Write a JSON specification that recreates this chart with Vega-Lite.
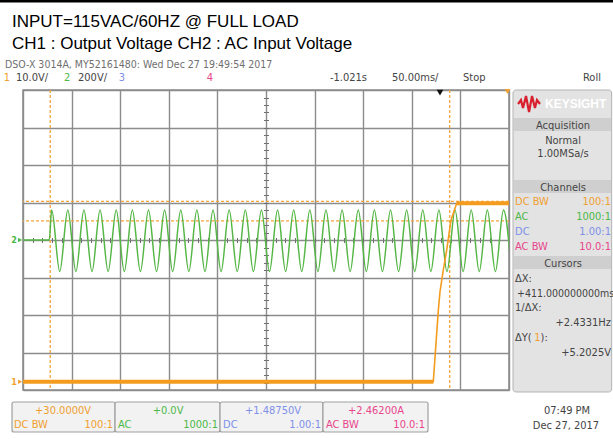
{
"$schema": "https://vega.github.io/schema/vega-lite/v6.json",
"width": 486, "height": 300,
"autosize": "none",
"padding": {"left": 23, "top": 90, "right": 104, "bottom": 49},
"background": "white",
"title": {"text": ["INPUT=115VAC/60HZ @ FULL LOAD", "CH1 : Output Voltage CH2 : AC Input Voltage"], "anchor": "start", "frame": "group", "orient": "top", "dx": -11, "offset": -53, "font": "Liberation Sans", "fontSize": 17, "fontWeight": "normal", "color": "#000000", "lineHeight": 22},
"config": {"view": {"stroke": "#8c8c8c", "strokeWidth": 1.5}},
"datasets": {
"ch2": [{"t":-250,"v":0},{"t":-223,"v":0},
{"t":-220.5,"v":0.8},{"t":-212.2,"v":-0.84},{"t":-203.9,"v":0.8},{"t":-195.6,"v":-0.84},{"t":-187.3,"v":0.8},{"t":-179.0,"v":-0.84},{"t":-170.7,"v":0.8},{"t":-162.4,"v":-0.84},{"t":-154.1,"v":0.8},{"t":-145.8,"v":-0.84},{"t":-137.5,"v":0.8},{"t":-129.2,"v":-0.84},{"t":-120.9,"v":0.8},{"t":-112.6,"v":-0.84},{"t":-104.3,"v":0.8},{"t":-96.0,"v":-0.84},{"t":-87.7,"v":0.8},{"t":-79.4,"v":-0.84},{"t":-71.1,"v":0.8},{"t":-62.8,"v":-0.84},{"t":-54.5,"v":0.8},{"t":-46.2,"v":-0.84},{"t":-37.9,"v":0.8},{"t":-29.6,"v":-0.84},{"t":-21.3,"v":0.8},{"t":-13.0,"v":-0.84},{"t":-4.7,"v":0.8},{"t":3.6,"v":-0.84},{"t":11.9,"v":0.8},{"t":20.2,"v":-0.84},{"t":28.5,"v":0.8},{"t":36.8,"v":-0.84},{"t":45.1,"v":0.8},{"t":53.4,"v":-0.84},{"t":61.7,"v":0.8},{"t":70.0,"v":-0.84},{"t":78.3,"v":0.8},{"t":86.6,"v":-0.84},{"t":94.9,"v":0.8},{"t":103.2,"v":-0.84},{"t":111.5,"v":0.8},{"t":119.8,"v":-0.84},{"t":128.1,"v":0.8},{"t":136.4,"v":-0.84},{"t":144.7,"v":0.8},{"t":153.0,"v":-0.84},{"t":161.3,"v":0.8},{"t":169.6,"v":-0.84},{"t":177.9,"v":0.8},{"t":186.2,"v":-0.84},{"t":194.5,"v":0.8},{"t":202.8,"v":-0.84},{"t":211.1,"v":0.8},{"t":219.4,"v":-0.84},{"t":227.7,"v":0.8},{"t":236.0,"v":-0.84},{"t":244.3,"v":0.8},{"t":252.6,"v":-0.84}],
"ch1": [{"t":-250,"v":-3.78,"seg":"low"},{"t":172.1,"v":-3.78,"seg":"low"},{"t":177.3,"v":-1.87,"seg":"rise"},{"t":179.0,"v":-1.38,"seg":"rise"},{"t":182.4,"v":-0.8,"seg":"rise"},{"t":185.9,"v":-0.27,"seg":"rise"},{"t":190.3,"v":0.53,"seg":"rise"},{"t":196.2,"v":0.98,"seg":"high"},{"t":250,"v":0.98,"seg":"high"}],
"cursorT": [{"t":-222},{"t":189}],
"cursorV": [{"v":1.03},{"v":0.51}],
"border": [{"t":-275,"t2":358,"v":6.373}],
"boxes": [
{"t":254.1,"t2":355.6,"v":4.0,"v2":-4.053,"kind":"panel"},
{"t":255,"t2":355,"v":3.253,"v2":2.907,"kind":"bar"},
{"t":255,"t2":355,"v":1.6,"v2":1.253,"kind":"bar"},
{"t":255,"t2":355,"v":-0.427,"v2":-0.773,"kind":"bar"},
{"t":-261.3,"t2":-155.3,"v":-4.32,"v2":-5.12,"kind":"box"},
{"t":-155.3,"t2":-47.3,"v":-4.32,"v2":-5.12,"kind":"box"},
{"t":-47.3,"t2":58.6,"v":-4.32,"v2":-5.12,"kind":"box"},
{"t":58.6,"t2":166.7,"v":-4.32,"v2":-5.12,"kind":"box"}],
"logo": [{"t":259.3,"v":3.627},{"t":262.3,"v":3.733},{"t":264.4,"v":3.52},{"t":267.5,"v":3.84},{"t":270.6,"v":3.413},{"t":273.7,"v":3.84},{"t":276.7,"v":3.52},{"t":278.8,"v":3.733},{"t":281.9,"v":3.627}],
"marks": [{"t":179,"v":3.93,"kind":"delay","ch":"b"},{"t":248.5,"v":3.96,"kind":"trig","ch":"1"},{"t":-253,"v":-3.78,"kind":"gnd","ch":"1"},{"t":-253,"v":0,"kind":"gnd","ch":"2"}],
"labels": [
{"t":-268.5,"v":4.587,"text":"DSO-X 3014A, MY52161480: Wed Dec 27 19:49:54 2017","ch":"g","kind":"dso"},
{"t":-257.2,"v":4.24,"text":"10.0V/","ch":"k","kind":"hdr"},
{"t":-193.4,"v":4.24,"text":"200V/","ch":"k","kind":"hdr"},
{"t":65.8,"v":4.24,"text":"-1.021s","ch":"k","kind":"hdr"},
{"t":129.6,"v":4.24,"text":"50.00ms/","ch":"k","kind":"hdr"},
{"t":202.7,"v":4.24,"text":"Stop","ch":"k","kind":"hdr"},
{"t":326.1,"v":4.24,"text":"Roll","ch":"k","kind":"hdr"},
{"t":-266.5,"v":4.24,"text":"1","ch":"1","kind":"hdrc"},
{"t":-204.7,"v":4.24,"text":"2","ch":"2","kind":"hdrc"},
{"t":-148.2,"v":4.24,"text":"3","ch":"3","kind":"hdrc"},
{"t":-57.6,"v":4.24,"text":"4","ch":"4","kind":"hdrc"},
{"t":305.6,"v":2.96,"text":"Acquisition","ch":"k","kind":"c"},
{"t":305.6,"v":2.56,"text":"Normal","ch":"k","kind":"c"},
{"t":305.6,"v":2.213,"text":"1.00MSa/s","ch":"k","kind":"c"},
{"t":305.6,"v":1.307,"text":"Channels","ch":"k","kind":"c"},
{"t":305.6,"v":-0.72,"text":"Cursors","ch":"k","kind":"c"},
{"t":256.2,"v":0.933,"text":"DC BW","ch":"1","kind":"l"},
{"t":256.2,"v":0.533,"text":"AC","ch":"2","kind":"l"},
{"t":256.2,"v":0.133,"text":"DC","ch":"3","kind":"l"},
{"t":256.2,"v":-0.267,"text":"AC BW","ch":"4","kind":"l"},
{"t":256.2,"v":-1.12,"text":"ΔX:","ch":"k","kind":"l"},
{"t":256.2,"v":-1.893,"text":"1/ΔX:","ch":"k","kind":"l"},
{"t":256.2,"v":-2.693,"text":"ΔY(","ch":"k","kind":"l"},
{"t":276.0,"v":-2.693,"text":"1","ch":"1","kind":"l"},
{"t":282.5,"v":-2.693,"text":"):","ch":"k","kind":"l"},
{"t":258.3,"v":-1.52,"text":"+411.000000000ms","ch":"k","kind":"ls"},
{"t":354.9,"v":0.933,"text":"100:1","ch":"1","kind":"r"},
{"t":354.9,"v":0.533,"text":"1000:1","ch":"2","kind":"r"},
{"t":354.9,"v":0.133,"text":"1.00:1","ch":"3","kind":"r"},
{"t":354.9,"v":-0.267,"text":"10.0:1","ch":"4","kind":"r"},
{"t":354.9,"v":-2.293,"text":"+2.4331Hz","ch":"k","kind":"r"},
{"t":354.9,"v":-3.093,"text":"+5.2025V","ch":"k","kind":"r"},
{"t":-208.8,"v":-4.64,"text":"+30.0000V","ch":"1","kind":"c"},
{"t":-100.8,"v":-4.64,"text":"+0.0V","ch":"2","kind":"c"},
{"t":7.2,"v":-4.64,"text":"+1.48750V","ch":"3","kind":"c"},
{"t":113.2,"v":-4.64,"text":"+2.46200A","ch":"4","kind":"c"},
{"t":309.7,"v":-4.64,"text":"07:49 PM","ch":"k","kind":"c"},
{"t":308.6,"v":-5.05,"text":"Dec 27, 2017","ch":"k","kind":"c"},
{"t":-259.3,"v":-5.0,"text":"DC  BW","ch":"1","kind":"l"},
{"t":-152.3,"v":-5.0,"text":"AC","ch":"2","kind":"l"},
{"t":-44.2,"v":-5.0,"text":"DC","ch":"3","kind":"l"},
{"t":61.7,"v":-5.0,"text":"AC  BW","ch":"4","kind":"l"},
{"t":-157.4,"v":-5.0,"text":"100:1","ch":"1","kind":"r"},
{"t":-49.4,"v":-5.0,"text":"1000:1","ch":"2","kind":"r"},
{"t":56.6,"v":-5.0,"text":"1.00:1","ch":"3","kind":"r"},
{"t":163.6,"v":-5.0,"text":"10.0:1","ch":"4","kind":"r"},
{"t":-259.3,"v":-3.78,"text":"1","ch":"1","kind":"gnd"},
{"t":-259.3,"v":0,"text":"2","ch":"2","kind":"gnd"},
{"t":287.0,"v":3.52,"text":"KEYSIGHT","ch":"w","kind":"logo"}]
},
"layer": [
{"data": {"name": "border"}, "mark": {"type": "rule", "stroke": "#000000", "strokeWidth": 3},
 "encoding": {"x": {"field": "t", "type": "quantitative", "scale": {"domain": [-250, 250], "nice": false, "zero": false}, "axis": null}, "x2": {"field": "t2"}, "y": {"field": "v", "type": "quantitative", "scale": {"domain": [-4, 4], "nice": false, "zero": false}, "axis": null}}},
{"data": {"name": "boxes"}, "transform": [{"filter": "datum.kind === 'panel'"}], "mark": {"type": "rect", "fill": "#e3e3e3", "stroke": "#b3b3b3", "strokeWidth": 1, "cornerRadius": 3},
 "encoding": {"x": {"field": "t", "type": "quantitative", "axis": null}, "x2": {"field": "t2"}, "y": {"field": "v", "type": "quantitative", "axis": null}, "y2": {"field": "v2"}}},
{"data": {"name": "boxes"}, "transform": [{"filter": "datum.kind === 'bar'"}], "mark": {"type": "rect", "fill": "#cfcfcf"},
 "encoding": {"x": {"field": "t", "type": "quantitative", "axis": null}, "x2": {"field": "t2"}, "y": {"field": "v", "type": "quantitative", "axis": null}, "y2": {"field": "v2"}}},
{"data": {"name": "boxes"}, "transform": [{"filter": "datum.kind === 'box'"}], "mark": {"type": "rect", "fill": "#f2f2f2", "stroke": "#a0a0a0", "strokeWidth": 1.2, "cornerRadius": 2},
 "encoding": {"x": {"field": "t", "type": "quantitative", "axis": null}, "x2": {"field": "t2"}, "y": {"field": "v", "type": "quantitative", "axis": null}, "y2": {"field": "v2"}}},
{"data": {"name": "cursorT"}, "mark": {"type": "rule", "stroke": "#f5a43a", "strokeDash": [3, 2], "strokeWidth": 1.3},
 "encoding": {"x": {"field": "t", "type": "quantitative", "axis": null}}},
{"data": {"name": "cursorV"}, "mark": {"type": "rule", "stroke": "#f5a43a", "strokeDash": [3, 2], "strokeWidth": 1.3},
 "encoding": {"y": {"field": "v", "type": "quantitative", "axis": null}}},
{"data": {"name": "ch2"}, "mark": {"type": "line", "color": "#55b646", "strokeWidth": 1.5, "interpolate": "monotone", "clip": true},
 "encoding": {
  "x": {"field": "t", "type": "quantitative", "scale": {"domain": [-250, 250], "nice": false, "zero": false}, "axis": {"orient": "bottom", "values": [-250,-200,-150,-100,-50,0,50,100,150,200,250], "grid": true, "gridColor": "#8c8c8c", "gridWidth": 1.4, "gridOpacity": 1, "ticks": false, "labels": false, "domain": false, "title": null}},
  "y": {"field": "v", "type": "quantitative", "scale": {"domain": [-4, 4], "nice": false, "zero": false}, "axis": {"orient": "left", "values": [-4,-3,-2,-1,0,1,2,3,4], "grid": true, "gridColor": "#8c8c8c", "gridWidth": 1.4, "gridOpacity": 1, "ticks": false, "labels": false, "domain": false, "title": null}}
 }},
{"data": {"name": "ch1"}, "mark": {"type": "line", "color": "#f39c1f", "strokeWidth": 1.6},
 "encoding": {
  "x": {"field": "t", "type": "quantitative", "axis": {"orient": "bottom", "offset": -150, "values": [-240,-230,-220,-210,-200,-190,-180,-170,-160,-150,-140,-130,-120,-110,-100,-90,-80,-70,-60,-50,-40,-30,-20,-10,0,10,20,30,40,50,60,70,80,90,100,110,120,130,140,150,160,170,180,190,200,210,220,230,240], "grid": false, "ticks": true, "tickSize": 2.5, "tickColor": "#6e6e6e", "tickWidth": 1, "labels": false, "domain": false, "title": null}},
  "y": {"field": "v", "type": "quantitative", "axis": {"orient": "left", "offset": -243, "values": [-3.8,-3.6,-3.4,-3.2,-3,-2.8,-2.6,-2.4,-2.2,-2,-1.8,-1.6,-1.4,-1.2,-1,-0.8,-0.6,-0.4,-0.2,0,0.2,0.4,0.6,0.8,1,1.2,1.4,1.6,1.8,2,2.2,2.4,2.6,2.8,3,3.2,3.4,3.6,3.8], "grid": false, "ticks": true, "tickSize": 2.5, "tickColor": "#6e6e6e", "tickWidth": 1, "labels": false, "domain": false, "title": null}}
 }},
{"data": {"name": "ch1"}, "transform": [{"filter": "datum.seg !== 'rise'"}], "mark": {"type": "line", "color": "#f39c1f", "strokeWidth": 4},
 "encoding": {
  "detail": {"field": "seg"},
  "x": {"field": "t", "type": "quantitative", "axis": {"orient": "top", "offset": -150, "values": [-240,-230,-220,-210,-200,-190,-180,-170,-160,-150,-140,-130,-120,-110,-100,-90,-80,-70,-60,-50,-40,-30,-20,-10,0,10,20,30,40,50,60,70,80,90,100,110,120,130,140,150,160,170,180,190,200,210,220,230,240], "grid": false, "ticks": true, "tickSize": 2.5, "tickColor": "#6e6e6e", "tickWidth": 1, "labels": false, "domain": false, "title": null}},
  "y": {"field": "v", "type": "quantitative", "axis": {"orient": "right", "offset": -243, "values": [-3.8,-3.6,-3.4,-3.2,-3,-2.8,-2.6,-2.4,-2.2,-2,-1.8,-1.6,-1.4,-1.2,-1,-0.8,-0.6,-0.4,-0.2,0,0.2,0.4,0.6,0.8,1,1.2,1.4,1.6,1.8,2,2.2,2.4,2.6,2.8,3,3.2,3.4,3.6,3.8], "grid": false, "ticks": true, "tickSize": 2.5, "tickColor": "#6e6e6e", "tickWidth": 1, "labels": false, "domain": false, "title": null}}
 }},
{"data": {"name": "logo"}, "mark": {"type": "line", "color": "#d9202e", "strokeWidth": 2.2},
 "encoding": {"x": {"field": "t", "type": "quantitative", "axis": null}, "y": {"field": "v", "type": "quantitative", "axis": null}}},
{"data": {"name": "marks"}, "mark": {"type": "point", "filled": true, "opacity": 1},
 "encoding": {
  "x": {"field": "t", "type": "quantitative", "axis": null}, "y": {"field": "v", "type": "quantitative", "axis": null},
  "shape": {"field": "kind", "type": "nominal", "scale": {"domain": ["delay", "trig", "gnd"], "range": ["triangle-down", "triangle-down", "triangle-right"]}, "legend": null},
  "size": {"field": "kind", "type": "ordinal", "scale": {"domain": ["delay", "trig", "gnd"], "range": [45, 22, 18]}, "legend": null},
  "color": {"field": "ch", "type": "nominal", "scale": {"domain": ["1","2","3","4","k","g","w","b"], "range": ["#f0a030","#4cb848","#7f90e8","#e8458c","#444444","#707070","#ffffff","#111111"]}, "legend": null}
 }},
{"data": {"name": "labels"}, "transform": [{"filter": "datum.kind === 'dso'"}], "mark": {"type": "text", "align": "left", "baseline": "alphabetic", "font": "Liberation Sans Narrow, DejaVu Sans Condensed, sans-serif", "fontSize": 10.5},
 "encoding": {"x": {"field": "t", "type": "quantitative", "axis": null}, "y": {"field": "v", "type": "quantitative", "axis": null}, "text": {"field": "text"}, "color": {"field": "ch", "type": "nominal", "legend": null}}},
{"data": {"name": "labels"}, "transform": [{"filter": "datum.kind === 'hdr'"}], "mark": {"type": "text", "align": "left", "baseline": "alphabetic", "font": "Liberation Sans Narrow, DejaVu Sans Condensed, sans-serif", "fontSize": 11},
 "encoding": {"x": {"field": "t", "type": "quantitative", "axis": null}, "y": {"field": "v", "type": "quantitative", "axis": null}, "text": {"field": "text"}, "color": {"field": "ch", "type": "nominal", "legend": null}}},
{"data": {"name": "labels"}, "transform": [{"filter": "datum.kind === 'hdrc'"}], "mark": {"type": "text", "align": "center", "baseline": "alphabetic", "font": "Liberation Sans Narrow, DejaVu Sans Condensed, sans-serif", "fontSize": 11},
 "encoding": {"x": {"field": "t", "type": "quantitative", "axis": null}, "y": {"field": "v", "type": "quantitative", "axis": null}, "text": {"field": "text"}, "color": {"field": "ch", "type": "nominal", "legend": null}}},
{"data": {"name": "labels"}, "transform": [{"filter": "datum.kind === 'c'"}], "mark": {"type": "text", "align": "center", "baseline": "alphabetic", "font": "Liberation Sans Narrow, DejaVu Sans Condensed, sans-serif", "fontSize": 11},
 "encoding": {"x": {"field": "t", "type": "quantitative", "axis": null}, "y": {"field": "v", "type": "quantitative", "axis": null}, "text": {"field": "text"}, "color": {"field": "ch", "type": "nominal", "legend": null}}},
{"data": {"name": "labels"}, "transform": [{"filter": "datum.kind === 'l'"}], "mark": {"type": "text", "align": "left", "baseline": "alphabetic", "font": "Liberation Sans Narrow, DejaVu Sans Condensed, sans-serif", "fontSize": 11},
 "encoding": {"x": {"field": "t", "type": "quantitative", "axis": null}, "y": {"field": "v", "type": "quantitative", "axis": null}, "text": {"field": "text"}, "color": {"field": "ch", "type": "nominal", "legend": null}}},
{"data": {"name": "labels"}, "transform": [{"filter": "datum.kind === 'ls'"}], "mark": {"type": "text", "align": "left", "baseline": "alphabetic", "font": "Liberation Sans Narrow, DejaVu Sans Condensed, sans-serif", "fontSize": 10.5},
 "encoding": {"x": {"field": "t", "type": "quantitative", "axis": null}, "y": {"field": "v", "type": "quantitative", "axis": null}, "text": {"field": "text"}, "color": {"field": "ch", "type": "nominal", "legend": null}}},
{"data": {"name": "labels"}, "transform": [{"filter": "datum.kind === 'r'"}], "mark": {"type": "text", "align": "right", "baseline": "alphabetic", "font": "Liberation Sans Narrow, DejaVu Sans Condensed, sans-serif", "fontSize": 11},
 "encoding": {"x": {"field": "t", "type": "quantitative", "axis": null}, "y": {"field": "v", "type": "quantitative", "axis": null}, "text": {"field": "text"}, "color": {"field": "ch", "type": "nominal", "legend": null}}},
{"data": {"name": "labels"}, "transform": [{"filter": "datum.kind === 'gnd'"}], "mark": {"type": "text", "align": "center", "baseline": "middle", "font": "Liberation Sans Narrow, DejaVu Sans Condensed, sans-serif", "fontSize": 9, "fontWeight": "bold"},
 "encoding": {"x": {"field": "t", "type": "quantitative", "axis": null}, "y": {"field": "v", "type": "quantitative", "axis": null}, "text": {"field": "text"}, "color": {"field": "ch", "type": "nominal", "legend": null}}},
{"data": {"name": "labels"}, "transform": [{"filter": "datum.kind === 'logo'"}], "mark": {"type": "text", "align": "left", "baseline": "alphabetic", "font": "Liberation Sans", "fontSize": 12, "fontWeight": "bold"},
 "encoding": {"x": {"field": "t", "type": "quantitative", "axis": null}, "y": {"field": "v", "type": "quantitative", "axis": null}, "text": {"field": "text"}, "color": {"field": "ch", "type": "nominal", "legend": null}}}
],
"resolve": {"axis": {"x": "independent", "y": "independent"}}
}
